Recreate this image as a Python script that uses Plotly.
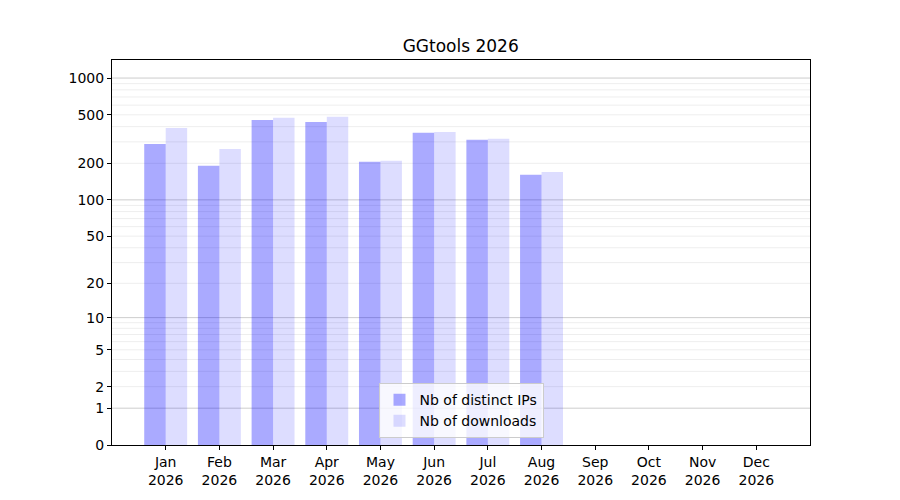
import numpy as np
import plotly.graph_objects as go

months = ["Jan", "Feb", "Mar", "Apr", "May", "Jun", "Jul", "Aug", "Sep", "Oct", "Nov", "Dec"]
year = "2026"
distinct_ips = [288, 191, 454, 437, 206, 356, 312, 161]
downloads = [390, 262, 472, 481, 210, 362, 318, 170]
y_ticks = [0, 1, 2, 5, 10, 20, 50, 100, 200, 500, 1000]
major_grid = [1, 10, 100, 1000]
minor_grid = [v * m for m in (1, 10, 100) for v in range(2, 10)]


def fwd(v):
    # log10(1 + x) scale, like the symlog-ish axis of the original
    return np.log10(1 + np.asarray(v, dtype=float))


x_pos = list(range(len(months)))
tick_text = [f"{m}<br>{year}" for m in months]

fig = go.Figure()
fig.add_trace(go.Bar(x=x_pos[:len(distinct_ips)], y=fwd(distinct_ips), name="Nb of distinct IPs",
                     marker=dict(color="rgba(0,0,255,0.333)", line=dict(width=0))))
fig.add_trace(go.Bar(x=x_pos[:len(downloads)], y=fwd(downloads), name="Nb of downloads",
                     marker=dict(color="rgba(0,0,255,0.133)", line=dict(width=0))))

for v in minor_grid:
    fig.add_shape(type="line", xref="paper", x0=0, x1=1, y0=fwd(v), y1=fwd(v),
                  line=dict(color="rgba(0,0,0,0.07)", width=1), layer="below")
for v in major_grid:
    fig.add_shape(type="line", xref="paper", x0=0, x1=1, y0=fwd(v), y1=fwd(v),
                  line=dict(color="rgba(0,0,0,0.2)", width=1), layer="below")

axis_font = dict(family="DejaVu Sans", size=14, color="black")
fig.update_layout(
    width=900, height=500,
    margin=dict(l=104, r=98, t=52, b=63),
    plot_bgcolor="white", paper_bgcolor="white",
    title=dict(text="GGtools 2026", x=0.503, xanchor="center", y=0.924, yanchor="middle",
               font=dict(family="DejaVu Sans", size=17, color="black")),
    barmode="group", bargap=0.2, bargroupgap=0,
    showlegend=True,
    legend=dict(x=0.5, xanchor="center", y=0.018, yanchor="bottom",
                bgcolor="rgba(255,255,255,0.8)", bordercolor="#cccccc", borderwidth=1,
                font=dict(family="DejaVu Sans", size=14, color="black"), itemwidth=30),
    xaxis=dict(range=[-1, 12], tickvals=x_pos, ticktext=tick_text, showgrid=False, zeroline=False,
               showline=True, linecolor="black", linewidth=1, mirror=True,
               ticks="outside", ticklen=4, tickcolor="black", tickfont=axis_font),
    yaxis=dict(range=[0, float(fwd(1405))], tickvals=fwd(y_ticks), ticktext=[str(t) for t in y_ticks],
               showgrid=False, zeroline=False,
               showline=True, linecolor="black", linewidth=1, mirror=True,
               ticks="outside", ticklen=4, tickcolor="black", tickfont=axis_font),
)

fig.write_html("out.html")
